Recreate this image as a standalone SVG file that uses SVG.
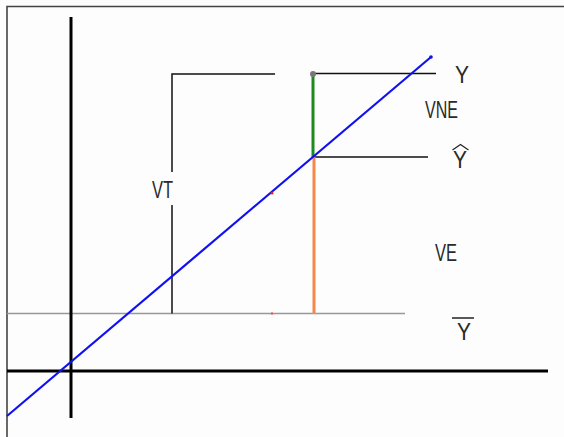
<svg xmlns="http://www.w3.org/2000/svg" width="564" height="437" viewBox="0 0 564 437">
<style>
.lbl{font-family:"Liberation Sans",Arial,sans-serif;font-size:24px;fill:#2a2a2a}
.thin{stroke:#111;stroke-width:1.5;fill:none}
</style>
<rect x="0" y="0" width="564" height="437" fill="#fdfdfd"/>
<g id="frame">
<path d="M7,437 V6.5 H564" fill="none" stroke="#444" stroke-width="1.6"/>
</g>
<g id="connectors">
<line x1="7" y1="313.5" x2="405" y2="313.5" stroke="#999" stroke-width="1.4"/>
<line x1="71" y1="17" x2="71" y2="418" stroke="#000" stroke-width="3"/>
<line x1="7" y1="371" x2="548" y2="371" stroke="#000" stroke-width="3"/>
<path class="thin" d="M172,172 V74 H275"/>
<path class="thin" d="M172,205 V313.5"/>
<line x1="312" y1="73.5" x2="436" y2="73.5" stroke="#111" stroke-width="1.5"/>
<line x1="313" y1="157" x2="428" y2="157" stroke="#111" stroke-width="1.5"/>
<line x1="313" y1="75" x2="313" y2="157" stroke="#1d8a1d" stroke-width="3"/>
<line x1="314" y1="157" x2="314" y2="314" stroke="#f4884a" stroke-width="3"/>
<line x1="7" y1="416" x2="431" y2="57" stroke="#1010f0" stroke-width="2.2"/>
<circle cx="431" cy="57" r="1.8" fill="#1010f0"/>
<circle cx="313" cy="74" r="3" fill="#777"/>
<circle cx="272" cy="193" r="1.5" fill="#e02020"/>
<circle cx="272" cy="313.5" r="1.2" fill="#e06060"/>
</g>
<g id="label-Y"><text class="lbl" x="455" y="83" textLength="14" lengthAdjust="spacingAndGlyphs">Y</text></g>
<g id="label-VNE"><text class="lbl" x="425" y="118" textLength="33" lengthAdjust="spacingAndGlyphs">VNE</text></g>
<g id="label-Yhat">
<text class="lbl" x="453" y="168" textLength="14" lengthAdjust="spacingAndGlyphs">Y</text>
<path d="M452.5,150 L460.5,144.5 L468.5,150" fill="none" stroke="#222" stroke-width="1.2"/>
</g>
<g id="label-VT"><text class="lbl" x="152" y="198" textLength="21" lengthAdjust="spacingAndGlyphs">VT</text></g>
<g id="label-VE"><text class="lbl" x="435" y="261" textLength="22" lengthAdjust="spacingAndGlyphs">VE</text></g>
<g id="label-Ybar">
<line x1="452" y1="318" x2="474" y2="318" stroke="#222" stroke-width="1.5"/>
<text class="lbl" x="457" y="340" textLength="14" lengthAdjust="spacingAndGlyphs">Y</text>
</g>
</svg>
